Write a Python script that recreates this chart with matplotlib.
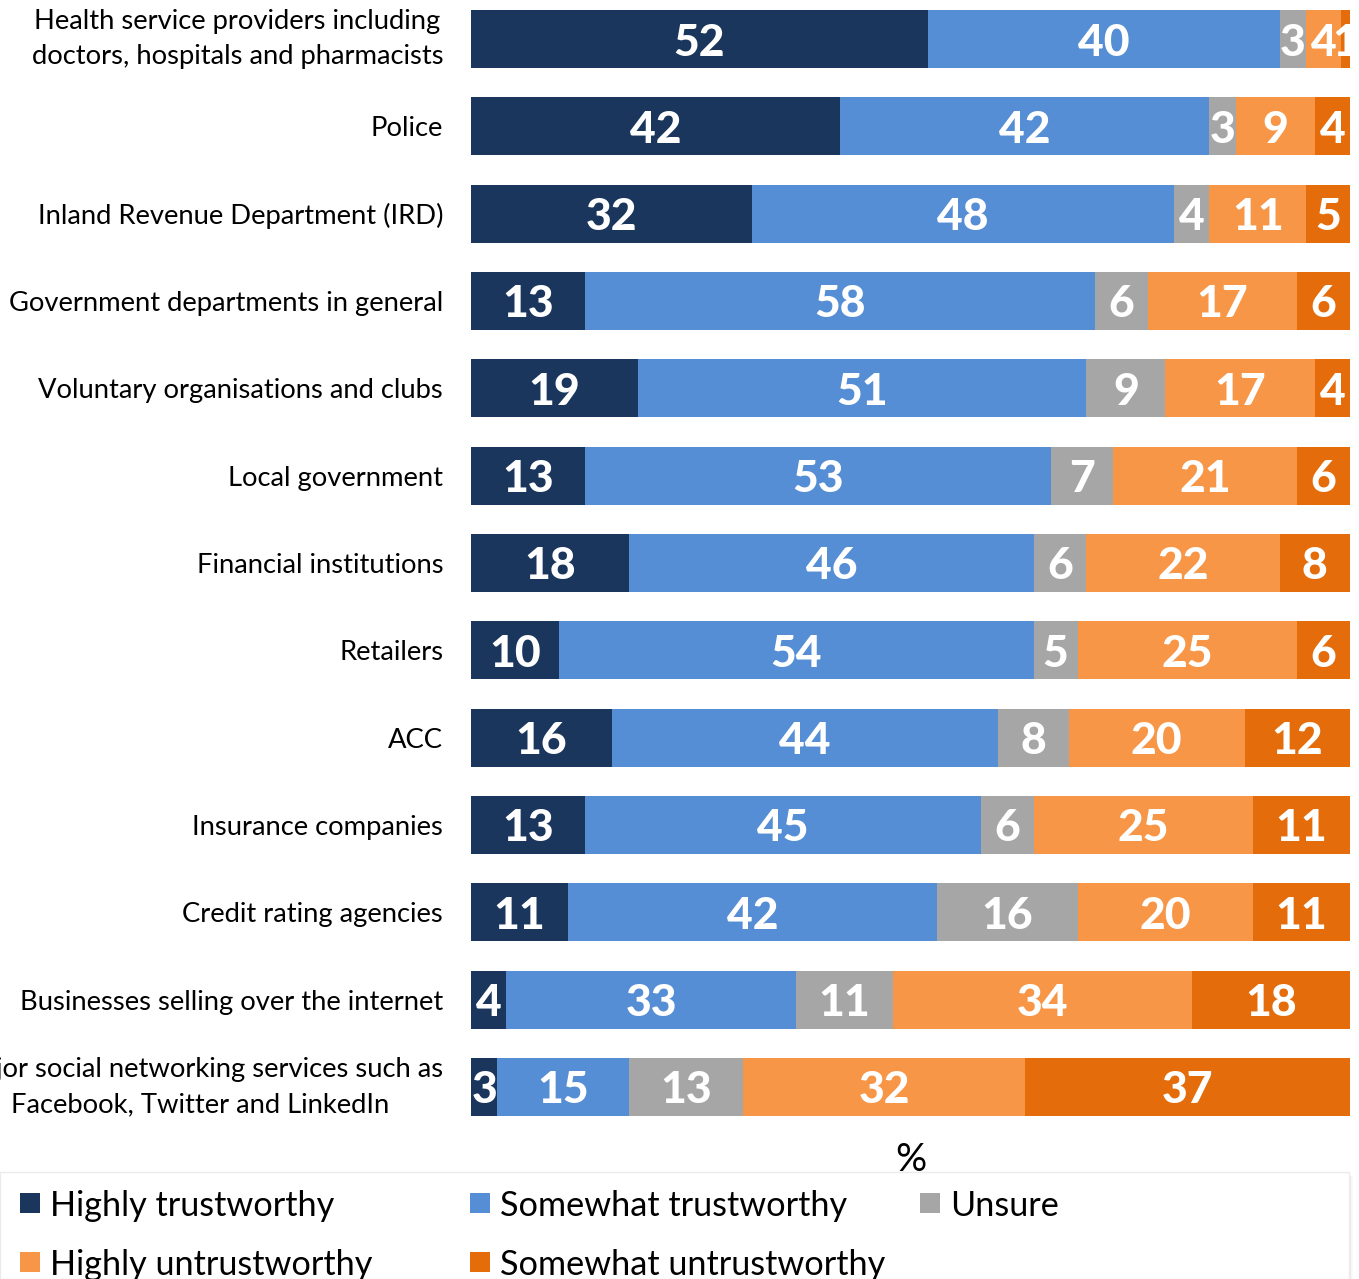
import matplotlib
matplotlib.use("Agg")
import matplotlib.pyplot as plt
from matplotlib.patches import Rectangle

# Survey results: trust in organisations (% of respondents)
categories = [
    "Health service providers including\ndoctors, hospitals and pharmacists",
    "Police",
    "Inland Revenue Department (IRD)",
    "Government departments in general",
    "Voluntary organisations and clubs",
    "Local government",
    "Financial institutions",
    "Retailers",
    "ACC",
    "Insurance companies",
    "Credit rating agencies",
    "Businesses selling over the internet",
    "Major social networking services such as\nFacebook, Twitter and LinkedIn",
]
highly_trustworthy = [52, 42, 32, 13, 19, 13, 18, 10, 16, 13, 11, 4, 3]
somewhat_trustworthy = [40, 42, 48, 58, 51, 53, 46, 54, 44, 45, 42, 33, 15]
unsure = [3, 3, 4, 6, 9, 7, 6, 5, 8, 6, 16, 11, 13]
highly_untrustworthy = [4, 9, 11, 17, 17, 21, 22, 25, 20, 25, 20, 34, 32]
somewhat_untrustworthy = [1, 4, 5, 6, 4, 6, 8, 6, 12, 11, 11, 18, 37]

series_names = ["Highly trustworthy", "Somewhat trustworthy", "Unsure",
                "Highly untrustworthy", "Somewhat untrustworthy"]
series = [highly_trustworthy, somewhat_trustworthy, unsure,
          highly_untrustworthy, somewhat_untrustworthy]
colors = ["#1B365D", "#558ED5", "#A6A6A6", "#F79646", "#E46C0A"]

FONT = "Lato"
W, H = 1359, 1279
fig = plt.figure(figsize=(W / 100, H / 100), dpi=100)

ax_left, ax_right = 471, 1350
ax_top, ax_bottom = 0, 1130
ax = fig.add_axes([ax_left / W, 1 - ax_bottom / H,
                   (ax_right - ax_left) / W, (ax_bottom - ax_top) / H])

ypos = list(range(len(categories)))
left = [0] * len(categories)
for vals, name, col in zip(series, series_names, colors):
    bars = ax.barh(ypos, vals, left=left, height=0.665, color=col,
                   label=name, linewidth=0)
    for rect, v in zip(bars, vals):
        cx = rect.get_x() + rect.get_width() / 2
        cy = rect.get_y() + rect.get_height() / 2
        ax.text(cx, cy, f"{v}", ha="center", va="center_baseline",
                color="white", fontsize=32, fontweight="black",
                family=FONT, clip_on=False)
    left = [l + v for l, v in zip(left, vals)]

ax.set_xlim(0, 100)
ax.set_ylim(12.493, -0.4466)
ax.set_yticks(ypos)
ax.set_yticklabels(categories, family=FONT, fontsize=19.7,
                   multialignment="center", linespacing=1.5)
for lbl in ax.get_yticklabels():
    if "\n" in lbl.get_text():
        lbl.set_verticalalignment("center")
ax.tick_params(axis="y", length=0, pad=20)
ax.set_xticks([])
for s in ax.spines.values():
    s.set_visible(False)

# axis unit label
fig.text((ax_left + ax_right) / 2 / W, 1 - 1160 / H, "%", ha="center",
         va="center", fontsize=28, family=FONT)

# legend panel with a soft shadow
box_top, box_right = 1172, 1349
for i, a in enumerate([0.10, 0.07, 0.04, 0.02]):
    fig.patches.append(Rectangle(((box_right + i) / W, 0), 1 / W,
                                 1 - (box_top + 4) / H,
                                 transform=fig.transFigure,
                                 color="black", alpha=a, lw=0))
fig.patches.append(Rectangle((0, 0), box_right / W, 1 - box_top / H,
                             transform=fig.transFigure, facecolor="white",
                             edgecolor="#EBEBEB", lw=1))

legend_pos = [(20, 1203), (470, 1203), (920, 1203), (20, 1262), (470, 1262)]
for (lx, ly), name, col in zip(legend_pos, series_names, colors):
    fig.patches.append(Rectangle((lx / W, 1 - (ly + 10) / H), 20 / W, 20 / H,
                                 transform=fig.transFigure, color=col, lw=0))
    fig.text((lx + 30) / W, 1 - (ly + 3) / H, name, ha="left", va="center",
             fontsize=24.7, family=FONT)

fig.savefig("out.png", dpi=100)
